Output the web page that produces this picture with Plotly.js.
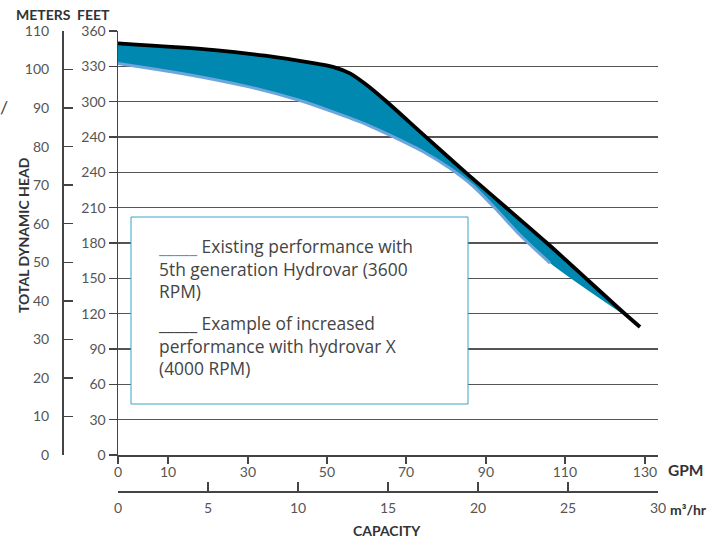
<!DOCTYPE html>
<html>
<head>
<meta charset="utf-8">
<script src="https://cdn.plot.ly/plotly-3.0.1.min.js"></script>
<style>html,body{margin:0;padding:0;background:#fff;}#chart{width:722px;height:540px;}</style>
</head>
<body>
<div id="chart"></div>
<script>
// Capacity in m³/hr, head in feet
const hydrovarXFlow = [0, 5.39, 8.17, 10.94, 11.94, 12.89, 13.82, 14.93, 16.96, 19.37, 23.83, 28.17, 29.0];
const hydrovarXHead = [349.5, 343.8, 339.0, 332.5, 329.6, 324.0, 314.1, 299.9, 272.0, 239.1, 180.0, 119.7, 108.7];

const existingFlow = [0, 3.54, 7.22, 10.02, 11.94, 13.82, 15.29, 16.96, 18.44, 19.72, 20.94, 22.33, 24.0];
const existingHead = [332.5, 324.0, 312.8, 301.4, 291.4, 280.6, 270.2, 257.5, 243.4, 228.4, 209.7, 186.8, 163.0];

// lower edge of the shaded band after the existing curve ends
const bandTailFlow = [28.3];
const bandTailHead = [117.0];

// tick labels
const feetTickVals = [0, 30, 60, 90, 120, 150, 180, 210, 240, 270, 300, 330, 360];
const feetTickText = ['0', '30', '60', '90', '120', '150', '180', '210', '240', '240', '300', '330', '360'];
const meterTickVals = [0, 10, 20, 30, 40, 50, 60, 70, 80, 90, 100, 110];
const gpmTickText = ['0', '10', '30', '50', '70', '90', '110', '130'];
const gpmTickPos = [0, 2.78, 7.22, 11.61, 16.0, 20.44, 24.83, 29.28];
const m3TickVals = [0, 5, 10, 15, 20, 25, 30];

// legend text lines
const legendLines1 = ['<span style="color:#3aa3d4;">_____</span> Existing performance with', '5th generation Hydrovar (3600', 'RPM)'];
const legendLines2 = ['_____ Example of increased', 'performance with hydrovar X', '(4000 RPM)'];

const lowerFlow = existingFlow.concat(bandTailFlow);
const lowerHead = existingHead.concat(bandTailHead);

const FONT = 'Lato, "Open Sans", sans-serif';
const LEGFONT = '"Open Sans", Lato, sans-serif';
const tickFont = {family: FONT, size: 14, color: '#555'};
const axisCol = '#444';
const sm = {shape: 'spline', smoothing: 0.8};

const traces = [
  {x: lowerFlow, y: lowerHead, mode: 'lines', line: Object.assign({width: 0, color: 'rgba(0,0,0,0)'}, sm), hoverinfo: 'skip', showlegend: false},
  {x: hydrovarXFlow, y: hydrovarXHead, mode: 'lines', line: Object.assign({width: 0, color: 'rgba(0,0,0,0)'}, sm), fill: 'tonexty', fillcolor: '#0088b0', hoverinfo: 'skip', showlegend: false},
  {x: existingFlow, y: existingHead, mode: 'lines', line: Object.assign({width: 3, color: '#6ca6dc'}, sm), showlegend: false},
  {x: hydrovarXFlow, y: hydrovarXHead, mode: 'lines', line: Object.assign({width: 3.8, color: '#000'}, sm), showlegend: false},
  {x: [], y: [], xaxis: 'x2', yaxis: 'y2', mode: 'lines', hoverinfo: 'skip', showlegend: false}
];

const px = v => (v - 50) / 608;
const py = v => (491 - v) / 460;

const boldFont = (s) => ({family: FONT, size: s, color: '#333', weight: 'bold'});
const legFont = {family: LEGFONT, size: 17.4, color: '#444'};

const layout = {
  width: 722, height: 540,
  margin: {l: 50, r: 64, t: 31, b: 49},
  paper_bgcolor: '#fff', plot_bgcolor: '#fff',
  showlegend: false,
  xaxis: {
    domain: [px(118), 1], range: [0, 30], anchor: 'y',
    tickmode: 'array', tickvals: gpmTickPos, ticktext: gpmTickText,
    ticks: 'outside', ticklen: 7, tickwidth: 1.5, tickcolor: axisCol,
    showline: true, linecolor: axisCol, linewidth: 1.5,
    showgrid: false, zeroline: false, tickfont: tickFont, ticklabelstandoff: -3
  },
  xaxis2: {
    overlaying: 'x', anchor: 'free', position: 0, range: [0, 30], side: 'bottom',
    tickmode: 'array', tickvals: m3TickVals,
    ticks: 'inside', ticklen: 9, tickwidth: 1.5, tickcolor: axisCol,
    showline: true, linecolor: axisCol, linewidth: 1.5,
    showgrid: false, zeroline: false, tickfont: tickFont, ticklabelstandoff: 4
  },
  yaxis: {
    domain: [py(455), 1], range: [0, 360], anchor: 'x',
    tickmode: 'array', tickvals: feetTickVals, ticktext: feetTickText,
    ticks: 'outside', ticklen: 8, tickwidth: 1.5, tickcolor: axisCol,
    showline: true, linecolor: axisCol, linewidth: 1.5,
    showgrid: true, gridcolor: '#555', gridwidth: 1.5,
    zeroline: false, tickfont: tickFont
  },
  yaxis2: {
    overlaying: 'y', anchor: 'free', position: px(62), side: 'left', range: [0, 110],
    tickmode: 'array', tickvals: meterTickVals,
    ticks: 'inside', ticklen: 9, tickwidth: 1.5, tickcolor: axisCol,
    showline: true, linecolor: axisCol, linewidth: 1.5,
    showgrid: false, zeroline: false, tickfont: tickFont, ticklabelstandoff: 10
  },
  shapes: [
    {type: 'rect', xref: 'paper', yref: 'paper', x0: px(131), x1: px(468), y0: py(404), y1: py(217),
     line: {color: '#3aa3c8', width: 1}, fillcolor: '#fff', layer: 'above'}
  ],
  annotations: [
    {xref: 'paper', yref: 'paper', x: px(156), y: py(268), xanchor: 'left', yanchor: 'middle', align: 'left',
     showarrow: false, text: legendLines1.join('<br>'), font: legFont},
    {xref: 'paper', yref: 'paper', x: px(156), y: py(346), xanchor: 'left', yanchor: 'middle', align: 'left',
     showarrow: false, text: legendLines2.join('<br>'), font: legFont},
    {xref: 'paper', yref: 'paper', x: px(43), y: py(14), xanchor: 'center', yanchor: 'middle', showarrow: false,
     text: 'METERS', font: boldFont(14)},
    {xref: 'paper', yref: 'paper', x: px(93), y: py(14), xanchor: 'center', yanchor: 'middle', showarrow: false,
     text: 'FEET', font: boldFont(14)},
    {xref: 'paper', yref: 'paper', x: px(23), y: py(235), xanchor: 'center', yanchor: 'middle', showarrow: false,
     textangle: -90, text: 'TOTAL DYNAMIC HEAD', font: boldFont(14)},
    {xref: 'paper', yref: 'paper', x: px(686), y: py(470), xanchor: 'center', yanchor: 'middle', showarrow: false,
     text: 'GPM', font: boldFont(15.5)},
    {xref: 'paper', yref: 'paper', x: px(688), y: py(509), xanchor: 'center', yanchor: 'middle', showarrow: false,
     text: 'm³/hr', font: boldFont(14)},
    {xref: 'paper', yref: 'paper', x: px(387), y: py(530), xanchor: 'center', yanchor: 'middle', showarrow: false,
     text: 'CAPACITY', font: boldFont(14)},
    {xref: 'paper', yref: 'paper', x: px(4), y: py(107), xanchor: 'center', yanchor: 'middle', showarrow: false,
     text: '/', font: {family: FONT, size: 18, color: '#444'}}
  ]
};

Plotly.newPlot('chart', traces, layout, {displayModeBar: false, staticPlot: true});
</script>
</body>
</html>
